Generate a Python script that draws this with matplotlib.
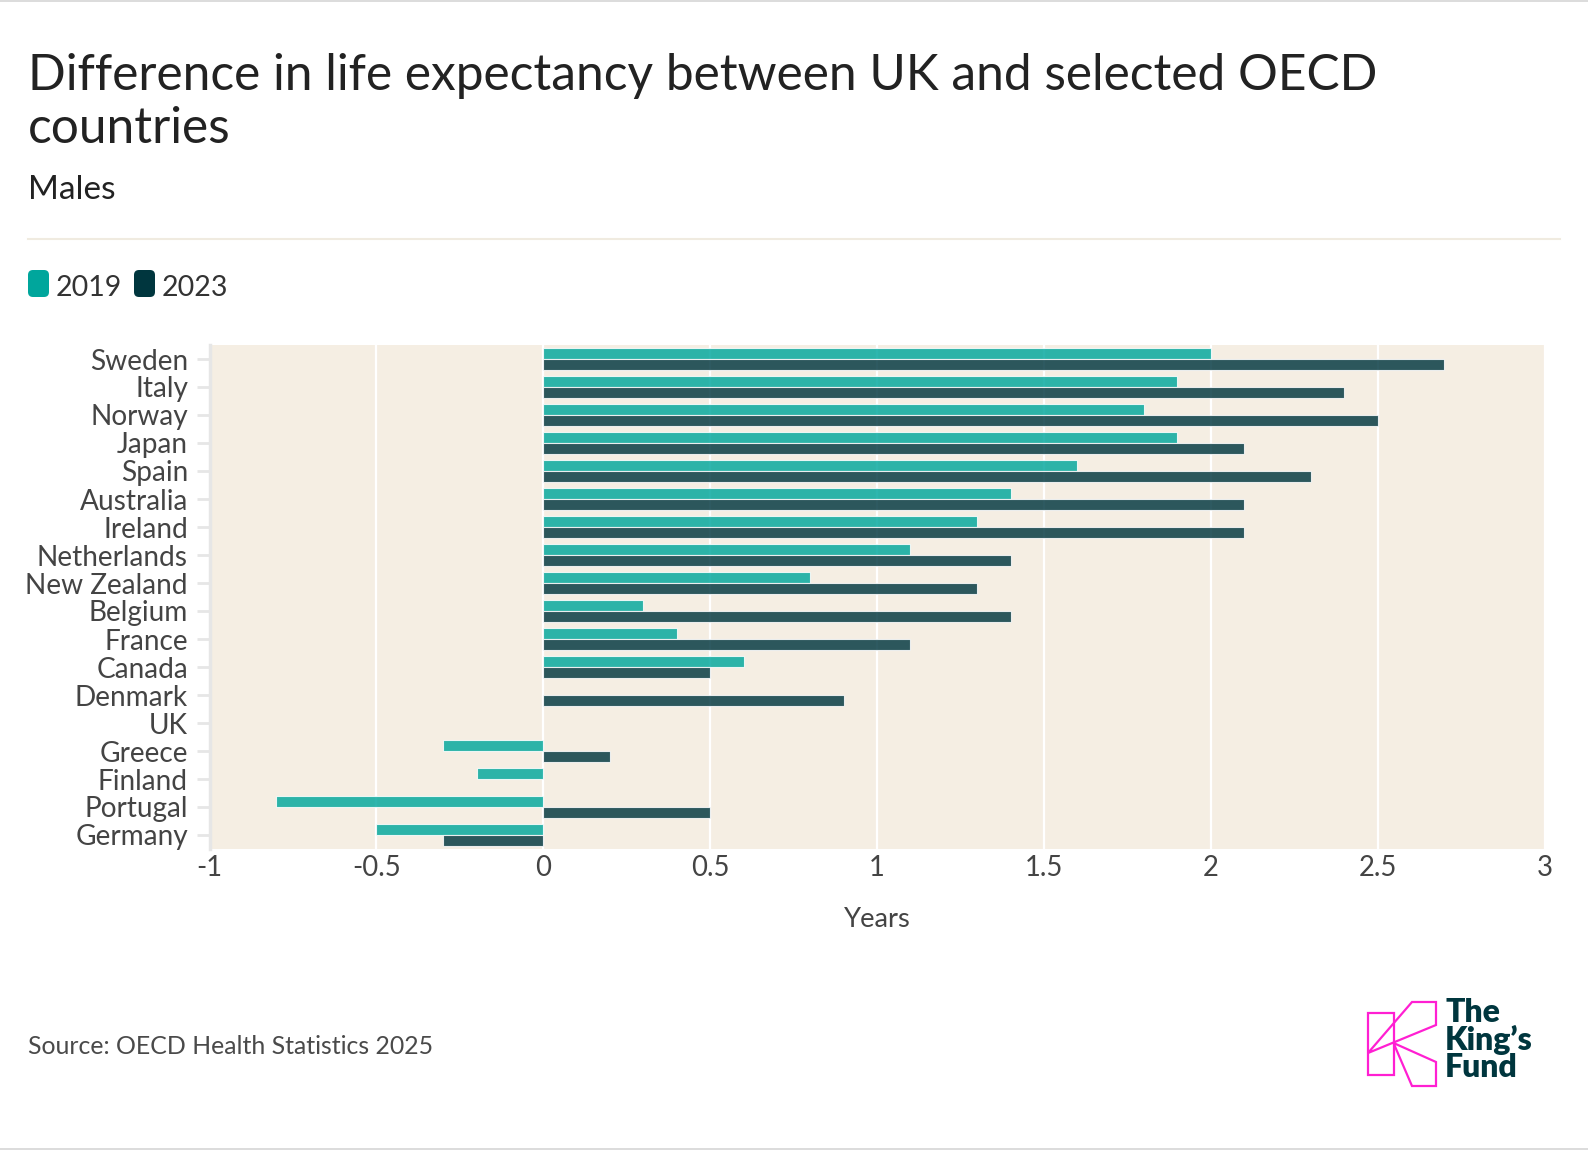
import numpy as np
import matplotlib.pyplot as plt
from matplotlib.patches import FancyBboxPatch, Polygon, Rectangle

plt.rcParams['font.family'] = ['Lato', 'DejaVu Sans']
plt.rcParams['axes.unicode_minus'] = False

countries = ['Sweden', 'Italy', 'Norway', 'Japan', 'Spain', 'Australia', 'Ireland',
             'Netherlands', 'New Zealand', 'Belgium', 'France', 'Canada', 'Denmark',
             'UK', 'Greece', 'Finland', 'Portugal', 'Germany']
diff_2019 = [2.0, 1.9, 1.8, 1.9, 1.6, 1.4, 1.3, 1.1, 0.8, 0.3, 0.4, 0.6, 0.0,
             0.0, -0.3, -0.2, -0.8, -0.5]
diff_2023 = [2.7, 2.4, 2.5, 2.1, 2.3, 2.1, 2.1, 1.4, 1.3, 1.4, 1.1, 0.5, 0.9,
             0.0, 0.2, 0.0, 0.5, -0.3]
years = ['2019', '2023']
xticks = [-1, -0.5, 0, 0.5, 1, 1.5, 2, 2.5, 3]
xtick_labels = ['-1', '-0.5', '0', '0.5', '1', '1.5', '2', '2.5', '3']

c2019 = '#00a69c'
c2023 = '#00363e'
bg = '#f5eee3'
W, H = 1588, 1150

fig = plt.figure(figsize=(W / 100, H / 100), dpi=100)

# plot area in pixel coords
left, right, top, bottom = 209.5, 1544.5, 345, 849
ax = fig.add_axes([left / W, 1 - bottom / H, (right - left) / W, (bottom - top) / H])
ax.set_facecolor(bg)

y = np.arange(len(countries))
lw19 = [0 if v == 0 else 0.8 for v in diff_2019]
lw23 = [0 if v == 0 else 0.8 for v in diff_2023]
ax.barh(y - 0.2, diff_2019, height=0.4, color=c2019, alpha=0.82,
        edgecolor='white', linewidth=lw19, zorder=3)
ax.barh(y + 0.2, diff_2023, height=0.4, color=c2023, alpha=0.82,
        edgecolor='white', linewidth=lw23, zorder=3)

ax.set_xlim(-1, 3)
ax.set_ylim(len(countries) - 0.5, -0.5)
ax.set_xticks(xticks)
ax.set_xticklabels(xtick_labels)
ax.set_yticks(y)
ax.set_yticklabels(countries)
ax.grid(axis='x', color='white', linewidth=1.6, zorder=1)
ax.set_axisbelow(True)
for s in ['top', 'right', 'bottom']:
    ax.spines[s].set_visible(False)
ax.spines['left'].set_color('#e6e6e6')
ax.spines['left'].set_linewidth(2.5)
ax.tick_params(axis='y', length=9.5, width=2, color='#e6e6e6', pad=6,
               labelsize=20.2, labelcolor='#444444')
ax.tick_params(axis='x', length=0, pad=4, labelsize=19.8, labelcolor='#444444')
ax.set_xlabel('Years', fontsize=19.7, color='#444444', labelpad=19)

# overlay in pixel coordinates for titles, legend and logo
ov = fig.add_axes([0, 0, 1, 1], zorder=-1)
ov.set_xlim(0, W)
ov.set_ylim(H, 0)
ov.axis('off')

ov.add_patch(Rectangle((0, 0), W, 2, color='#dcdcdc', lw=0))
ov.add_patch(Rectangle((0, H - 2.5), W, 2.5, color='#dcdcdc', lw=0))

ov.text(28, 90, 'Difference in life expectancy between UK and selected OECD',
        fontsize=35.7, color='#222222', va='baseline')
ov.text(28, 143, 'countries', fontsize=35.7, color='#222222', va='baseline')
ov.text(28, 199, 'Males', fontsize=24, color='#222222', va='baseline')
ov.plot([28, 1560], [239, 239], color='#f0ebe0', lw=1.5)

# legend
for x0, col, lab, tx in [(28, c2019, years[0], 56), (134, c2023, years[1], 162)]:
    ov.add_patch(FancyBboxPatch((x0 + 3, 273), 15, 21,
                                boxstyle='round,pad=3,rounding_size=5',
                                color=col, lw=0))
    ov.text(tx, 296, lab, fontsize=20.5, color='#333333', va='baseline')

ov.text(28, 1047, 'Source: OECD Health Statistics 2025', fontsize=17.9,
        color='#4a4a4a', va='center')

# logo
pink = '#ff1fd2'
ov.add_patch(Rectangle((1368, 1012.5), 25.5, 62, fill=False, ec=pink, lw=1.6))
ov.add_patch(Polygon([(1368, 1053), (1412, 1002), (1436, 1002), (1436, 1025)],
                     closed=True, fill=False, ec=pink, lw=1.6))
ov.add_patch(Polygon([(1393.5, 1043), (1436, 1062), (1436, 1086), (1412, 1086)],
                     closed=True, fill=False, ec=pink, lw=1.6))
for txt, yb in [('The', 1022), ('King\u2019s', 1050), ('Fund', 1077)]:
    ov.text(1445, yb, txt, fontsize=23, fontweight='heavy', color='#00363e',
            va='baseline')

fig.savefig('out.png', dpi=100)
